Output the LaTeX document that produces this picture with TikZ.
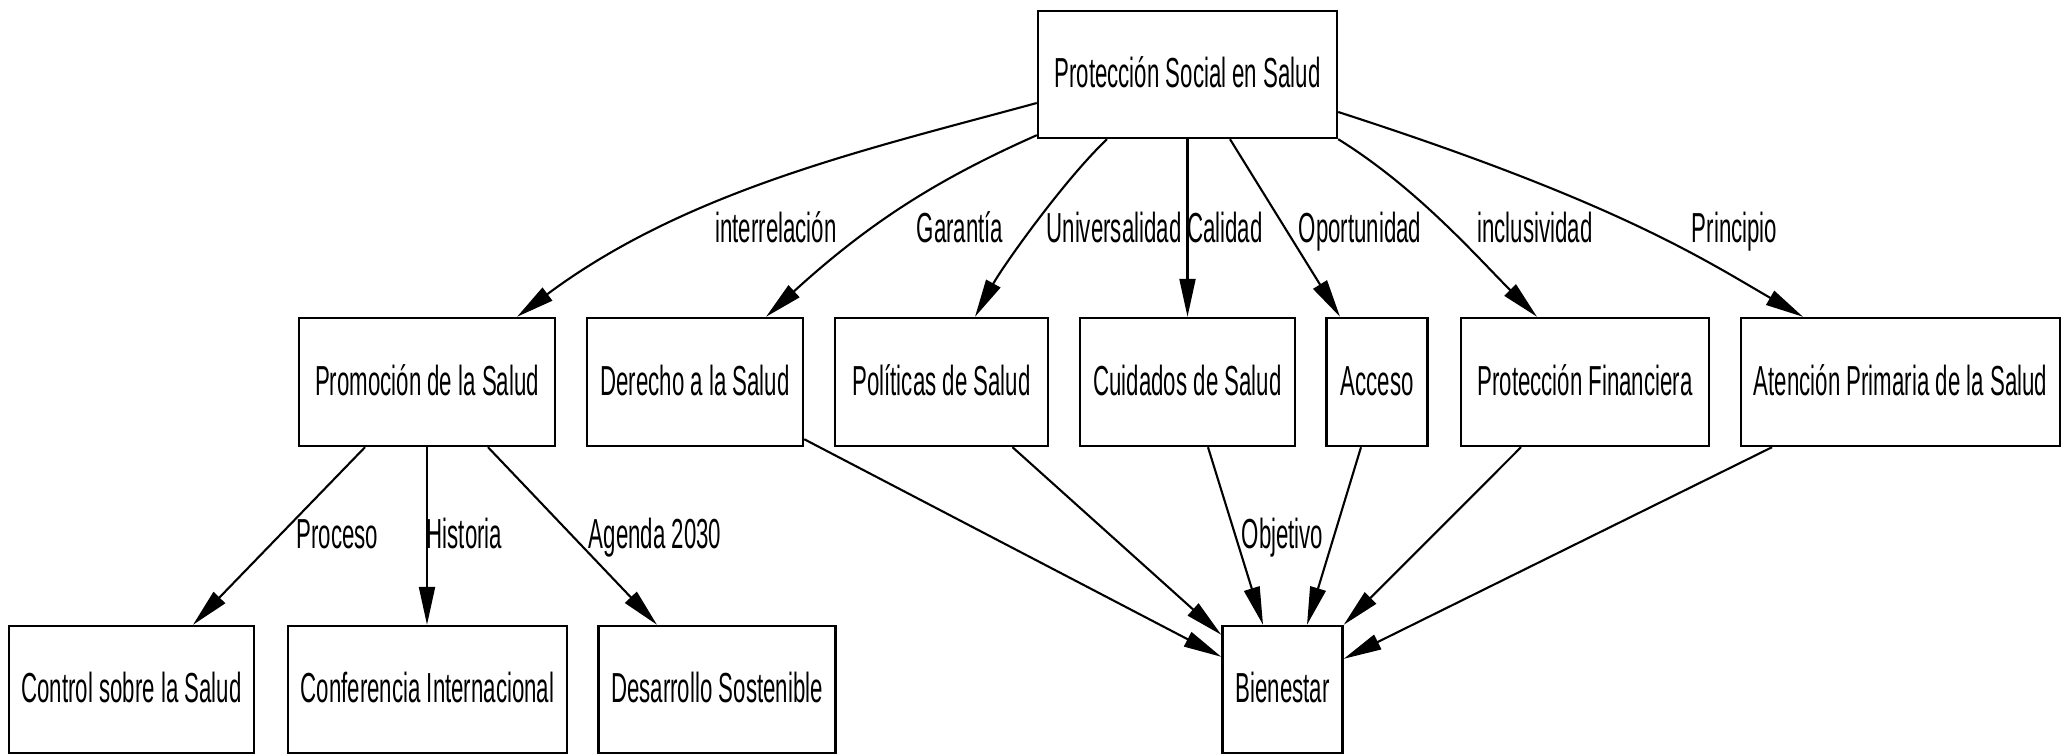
\documentclass[tikz,border=0pt]{standalone}
\usepackage{fontspec}
\setmainfont{Liberation Sans}[FakeStretch=0.53]
\usetikzlibrary{arrows.meta,calc}
\tikzset{
  box/.style={draw=black, line width=1.2pt, rectangle, inner sep=0pt,
    minimum height=64pt, text height=15pt, text depth=2pt,
    font=\fontsize{21pt}{25pt}\selectfont},
  lbl/.style={anchor=base, inner sep=0pt, font=\fontsize{21pt}{25pt}\selectfont},
  edge/.style={draw=black, line width=1.05pt, -{Triangle[length=19pt,width=8pt]}}
}
\begin{document}
\begin{tikzpicture}[x=0.5pt,y=-0.5pt]
\useasboundingbox (0,0) rectangle (2061,755);
% nodes
\node[box, minimum width=149.5pt, minimum height=63.5pt] (pss) at (1187.5,74.5) {Protección Social en Salud};
\node[box, minimum width=128pt] (promo) at (427,382) {Promoción de la Salud};
\node[box, minimum width=108pt] (der) at (695,382) {Derecho a la Salud};
\node[box, minimum width=106.5pt] (pol) at (941.5,382) {Políticas de Salud};
\node[box, minimum width=107.5pt] (cuid) at (1187.5,382) {Cuidados de Salud};
\node[box, minimum width=50.5pt] (acc) at (1377,382) {Acceso};
\node[box, minimum width=124pt] (pf) at (1585,382) {Protección Financiera};
\node[box, minimum width=159.5pt] (apr) at (1900.5,382) {Atención Primaria de la Salud};
\node[box, minimum width=122.5pt, minimum height=63.5pt] (ctl) at (131.5,689.5) {Control sobre la Salud};
\node[box, minimum width=139.5pt, minimum height=63.5pt] (conf) at (427.5,689.5) {Conferencia Internacional};
\node[box, minimum width=118.5pt, minimum height=63.5pt] (des) at (717,689.5) {Desarrollo Sostenible};
\node[box, minimum width=60pt, minimum height=63.5pt] (bien) at (1282.5,689.5) {Bienestar};
% edges from top
\draw[edge] ($(pss.west)+(0,28.5)$) .. controls (868,149) and (687,190) .. ($(promo.north)+(90,0)$);
\draw[edge] ($(pss.south west)+(0,-4)$) .. controls (938,179) and (870,222) .. ($(der.north)+(71,0)$);
\draw[edge] ($(pss.south)+(-80.5,0)$) .. controls (1064,180) and (1003,266) .. ($(pol.north)+(33.5,0)$);
\draw[edge] (pss.south) -- (cuid.north);
\draw[edge] ($(pss.south)+(42.5,0)$) -- ($(acc.north)+(-37,0)$);
\draw[edge] (pss.south east) .. controls (1417,188) and (1477,257) .. ($(pf.north)+(-48,0)$);
\draw[edge] ($(pss.east)+(0,37.5)$) .. controls (1617,202) and (1703,259) .. ($(apr.north)+(-97.5,0)$);
% edges to Bienestar
\draw[edge] ($(der.south east)+(0,-8)$) -- ($(bien.north west)+(0,32)$);
\draw[edge] ($(pol.south)+(71,0)$) -- ($(bien.north west)+(0,10)$);
\draw[edge] ($(cuid.south)+(20.5,0)$) -- ($(bien.north)+(-19.5,0)$);
\draw[edge] ($(acc.south)+(-16,0)$) -- ($(bien.north)+(24.5,0)$);
\draw[edge] ($(pf.south)+(-64,0)$) -- (bien.north east);
\draw[edge] ($(apr.south)+(-128.5,0)$) -- ($(bien.north east)+(0,34)$);
% edges from Promocion
\draw[edge] ($(promo.south)+(-62,0)$) -- ($(ctl.north)+(61.5,0)$);
\draw[edge] (promo.south) -- (promo.south |- conf.north);
\draw[edge] ($(promo.south)+(61,0)$) -- ($(des.north)+(-60,0)$);
% labels
\node[lbl] (l1) at (776,242) {interrelación};
\node[lbl] (l2) at (960,242) {Garantía};
\node[lbl] (l3) at (1114,242) {Universalidad};
\node[lbl] (l4) at (1225,242) {Calidad};
\node[lbl] (l5) at (1360,242) {Oportunidad};
\node[lbl] (l6) at (1535,242) {inclusividad};
\node[lbl] (l7) at (1734.5,242) {Principio};
\node[lbl] (l8) at (337.5,548) {Proceso};
\node[lbl] (l9) at (464.5,548) {Historia};
\node[lbl] (l10) at (655,548) {Agenda 2030};
\node[lbl] (l11) at (1282.5,548) {Objetivo};
\end{tikzpicture}
\end{document}
